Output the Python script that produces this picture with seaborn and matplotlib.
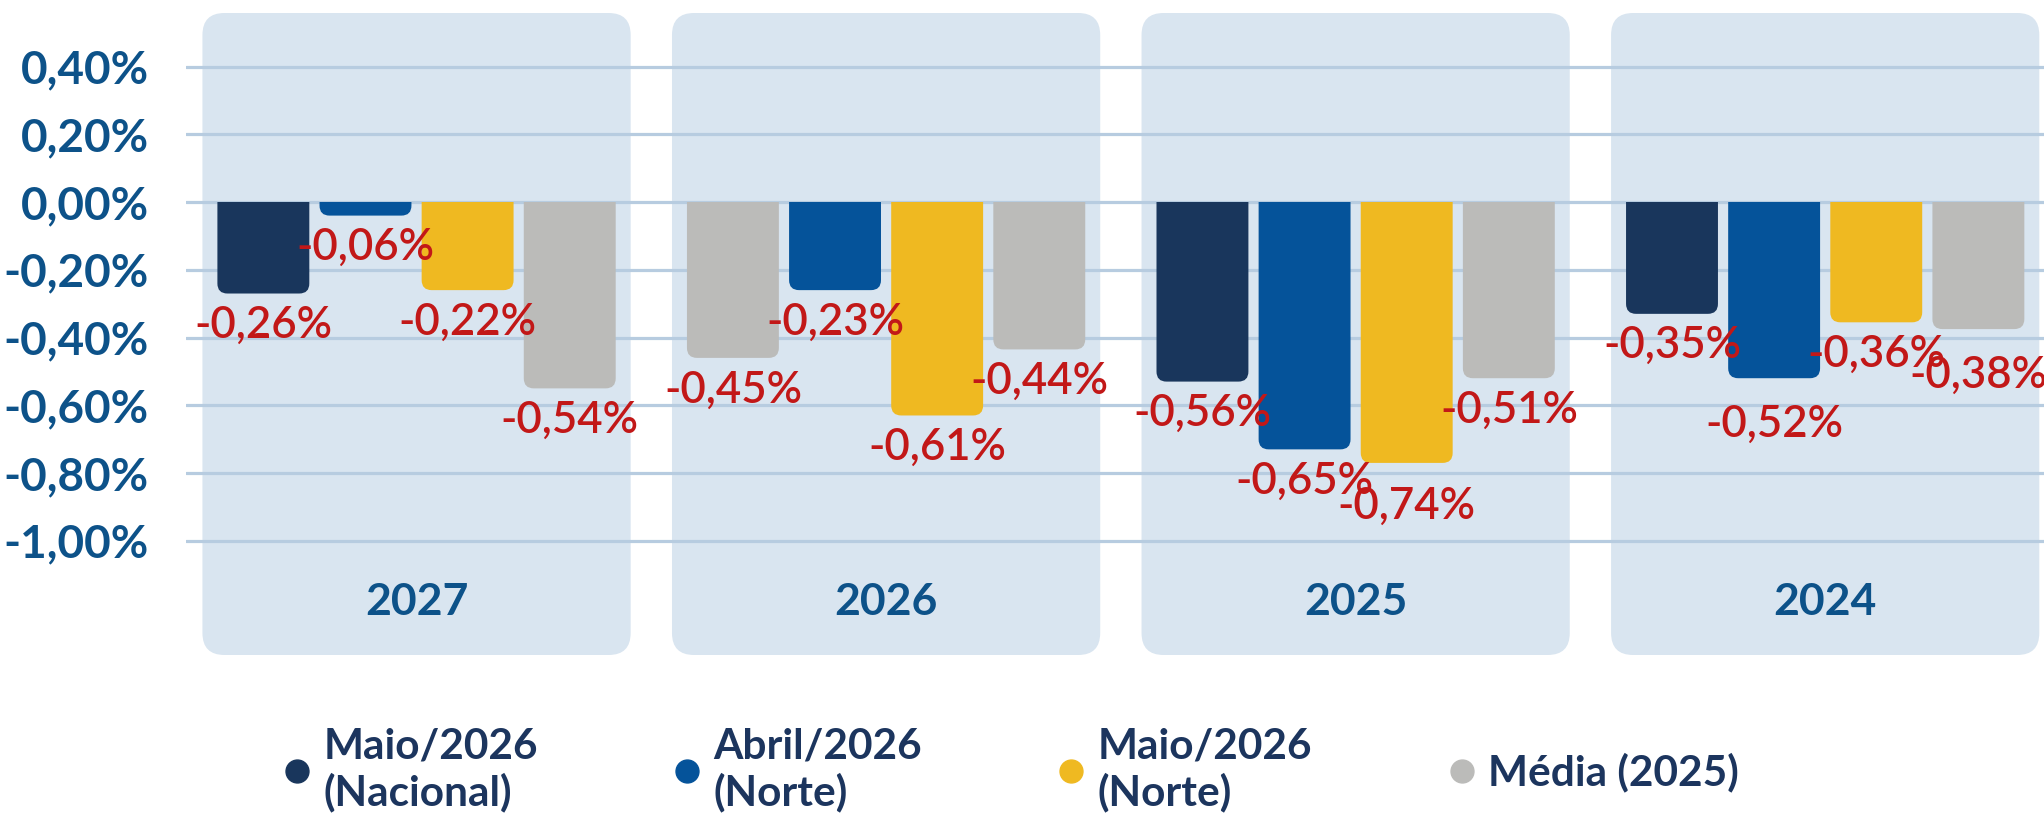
import pandas as pd
import numpy as np
from matplotlib import pyplot as plt
from matplotlib.patches import FancyBboxPatch, Rectangle
from matplotlib.lines import Line2D
from matplotlib.ticker import FuncFormatter
import seaborn as sns

# dados (altura das barras em %, rótulos como aparecem)
anos = ["2027", "2026", "2025", "2024"]
series = ["Maio/2026\n(Nacional)", "Abril/2026\n(Norte)", "Maio/2026\n(Norte)", "Média (2025)"]

maio_nacional = [-0.27, -0.46, -0.53, -0.33]
abril_norte = [-0.04, -0.26, -0.73, -0.52]
maio_norte = [-0.26, -0.63, -0.77, -0.355]
media_2025 = [-0.55, -0.435, -0.52, -0.375]

rot_maio_nacional = ["-0,26%", "-0,45%", "-0,56%", "-0,35%"]
rot_abril_norte = ["-0,06%", "-0,23%", "-0,65%", "-0,52%"]
rot_maio_norte = ["-0,22%", "-0,61%", "-0,74%", "-0,36%"]
rot_media_2025 = ["-0,54%", "-0,44%", "-0,51%", "-0,38%"]

cores = ["#19365c", "#05539a", "#efb921", "#bbbbb9"]
cinza_2026 = "#bbbbb9"  # primeira barra de 2026 aparece em cinza no original

valores = [maio_nacional, abril_norte, maio_norte, media_2025]
rotulos = [rot_maio_nacional, rot_abril_norte, rot_maio_norte, rot_media_2025]

df = pd.DataFrame({
    "ano": anos * len(series),
    "serie": np.repeat(series, len(anos)),
    "valor": np.concatenate(valores),
})

sns.set_style("white")
plt.rcParams["font.family"] = ["Lato", "DejaVu Sans"]

azul_txt = "#0d5289"
vermelho = "#c21818"

fig = plt.figure(figsize = (20.44, 8.14), dpi = 100)
ax = fig.add_axes([186 / 2044, 1 - 655 / 814, 1 - 186 / 2044, (655 - 13) / 814])

sns.barplot(data = df, x = "ano", y = "valor", hue = "serie", order = anos, hue_order = series,
            palette = cores, saturation = 1, width = 0.87, gap = 0.1, legend = False, ax = ax, zorder = 2)

ax.set_xlim(-0.491, 3.466)
ax.set_ylim(-1.337, 0.558)
for s in ax.spines.values():
    s.set_visible(False)

px_x = ax.transData.transform((1, 0))[0] - ax.transData.transform((0, 0))[0]
px_y = ax.transData.transform((0, 1))[1] - ax.transData.transform((0, 0))[1]
aspecto = px_x / px_y

# painéis arredondados atrás de cada grupo
for i in range(len(anos)):
    painel = FancyBboxPatch((i - 0.456, -1.337), 0.912, 1.337 + 0.558,
                            boxstyle = f"round,pad=0,rounding_size={22 / px_x}",
                            mutation_aspect = aspecto, facecolor = "#d9e5f0", edgecolor = "none",
                            zorder = 0.2, clip_on = False)
    ax.add_patch(painel)

ax.set_axisbelow(True)
ax.yaxis.grid(True, color = "#b7cce0", linewidth = 2.3, zorder = 0.5)
ax.xaxis.grid(False)

# alguns rótulos ficam um pouco mais baixos no original
desloc_extra = {(2, 2): -8, (1, 3): -10, (3, 3): -10}

# barras com cantos de baixo arredondados
clip = Rectangle((-1, -2), 6, 2, transform = ax.transData)
for k, cont in enumerate(ax.containers):
    for i, bar in enumerate(cont):
        x, w, h = bar.get_x(), bar.get_width(), bar.get_height()
        cor = cinza_2026 if (k == 0 and anos[i] == "2026") else cores[k]
        extra = 12 / px_y
        nova = FancyBboxPatch((x, h), w, -h + extra,
                              boxstyle = f"round,pad=0,rounding_size={10 / px_x}",
                              mutation_aspect = aspecto, facecolor = cor, edgecolor = "none", zorder = 2)
        ax.add_patch(nova)
        nova.set_clip_path(clip)
        bar.set_visible(False)

        dy = -23 + desloc_extra.get((k, i), 0)
        ax.annotate(rotulos[k][i], (x + w / 2, h), xytext = (0, dy), textcoords = "offset points",
                    ha = "center", va = "center", color = vermelho, fontsize = 31.5, fontweight = "semibold",
                    zorder = 5)

for i, ano in enumerate(anos):
    ax.text(i, -1.181, ano, ha = "center", va = "center", color = azul_txt, fontsize = 32,
            fontweight = "bold", zorder = 5)

ax.set_yticks(np.arange(-1.0, 0.41, 0.2))
ax.yaxis.set_major_formatter(FuncFormatter(lambda v, _: f"{round(v, 2) + 0:.2f}%".replace(".", ",").replace("-0,00", "0,00")))
ax.tick_params(axis = "y", length = 0, pad = 27, labelsize = 33, labelcolor = azul_txt)
for t in ax.get_yticklabels():
    t.set_fontweight("bold")
ax.set_xticks([])
ax.set_xlabel("")
ax.set_ylabel("")

handles = [Line2D([], [], marker = "o", ls = "", markersize = 16.5, color = c) for c in cores]
fig.legend(handles, series, loc = "center left", bbox_to_anchor = (285 / 2044, 1 - 770 / 814), ncol = 4,
           frameon = False, handlelength = 0.55, handletextpad = 0.35, columnspacing = 3.25,
           borderpad = 0, borderaxespad = 0, labelspacing = 0, labelcolor = "#1c355e",
           prop = dict(family = "Lato", weight = "bold", size = 30.5))

fig.savefig("out.png", dpi = 100)
